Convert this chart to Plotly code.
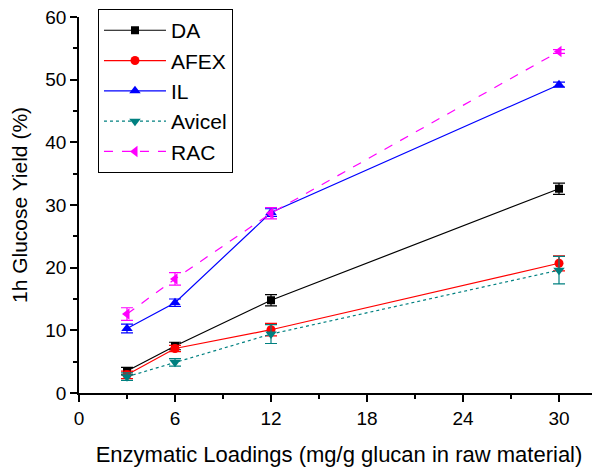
import plotly.graph_objects as go

loadings = [3, 6, 12, 30]
series_names = ["DA", "AFEX", "IL", "Avicel", "RAC"]
da = [3.5, 7.5, 14.8, 32.6]
da_err = [0.6, 0.6, 0.9, 0.9]
afex = [2.9, 7.1, 10.1, 20.7]
afex_err = [0.6, 0.5, 1.0, 1.2]
il = [10.3, 14.4, 28.8, 49.2]
il_err = [0.7, 0.6, 0.6, 0.4]
avicel = [2.6, 4.9, 9.4, 19.6]
avicel_err = [0.6, 0.6, 1.5, 2.2]
rac = [12.6, 18.2, 28.7, 54.5]
rac_err = [1.0, 1.0, 0.9, 0.3]

x_ticks = [0, 6, 12, 18, 24, 30]
y_ticks = [0, 10, 20, 30, 40, 50, 60]

styles = [
    (da, da_err, "#000000", "solid", "square", 8),
    (afex, afex_err, "#ff0000", "solid", "circle", 9),
    (il, il_err, "#0000ff", "solid", "triangle-up", 10),
    (avicel, avicel_err, "#008080", "dot", "triangle-down", 10),
    (rac, rac_err, "#ff00ff", "dash", "triangle-left", 10),
]

fig = go.Figure()
for name, (vals, errs, color, dash, sym, msize) in zip(series_names, styles):
    fig.add_trace(go.Scatter(
        x=loadings, y=vals, name=name, mode="lines+markers",
        line=dict(color=color, width=1.2, dash=dash),
        marker=dict(symbol=sym, size=msize, color=color),
        error_y=dict(type="data", array=errs, visible=True, color=color, thickness=1.2, width=6),
    ))

font = "Liberation Sans, Arial, sans-serif"
# the page body has an 8px default margin; figure is sized/offset to compensate
fig.update_layout(
    width=592, height=459,
    margin=dict(l=71, r=1, t=9, b=74),
    paper_bgcolor="white", plot_bgcolor="white",
    font=dict(family=font, size=18, color="black"),
    showlegend=True,
    legend=dict(x=0.0365, y=1.021, xanchor="left", yanchor="top",
                bordercolor="black", borderwidth=1, bgcolor="white",
                font=dict(size=21), tracegroupgap=0, itemwidth=62),
)
fig.update_xaxes(
    range=[0, 32.5], tickvals=x_ticks, ticktext=[str(v) for v in x_ticks],
    automargin=False, ticklabeloverflow="allow",
    showgrid=False, zeroline=False, showline=True, linecolor="black", linewidth=1.5,
    ticks="outside", ticklen=7, tickwidth=1.5, tickcolor="black",
    minor=dict(tickvals=[3, 9, 15, 21, 27], ticks="outside", ticklen=4, tickwidth=1.5, tickcolor="black"),
    tickfont=dict(size=19),
    title=dict(text="Enzymatic Loadings (mg/g glucan in raw material)", font=dict(size=22), standoff=20),
)
fig.update_yaxes(
    range=[0, 60], tickvals=y_ticks, ticktext=[str(v) for v in y_ticks],
    automargin=False, ticklabeloverflow="allow",
    showgrid=False, zeroline=False, showline=True, linecolor="black", linewidth=1.5,
    ticks="outside", ticklen=7, tickwidth=1.5, tickcolor="black",
    minor=dict(tickvals=[5, 15, 25, 35, 45, 55], ticks="outside", ticklen=4, tickwidth=1.5, tickcolor="black"),
    tickfont=dict(size=19),
    title=dict(text="1h Glucose Yield (%)", font=dict(size=21), standoff=36),
)
fig.write_html("out.html")
